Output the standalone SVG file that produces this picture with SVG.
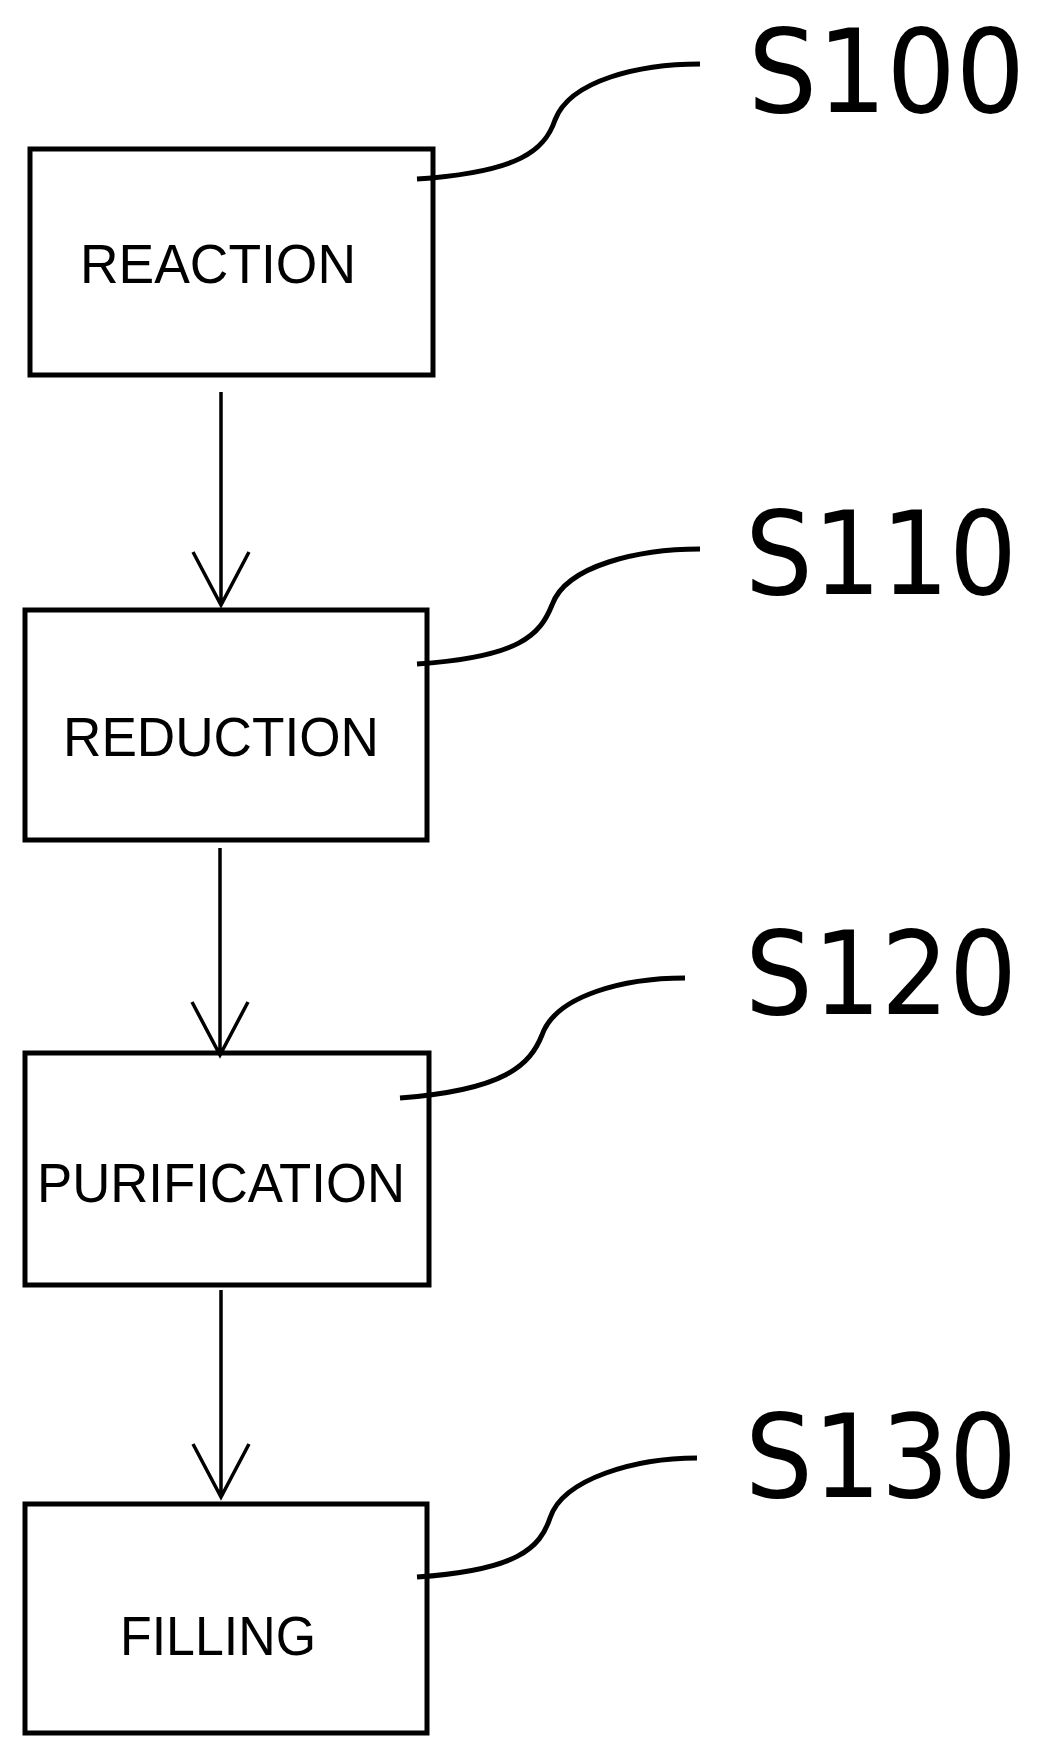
<svg xmlns="http://www.w3.org/2000/svg" width="1047" height="1755" viewBox="0 0 1047 1755">
<style>
.box{fill:#fff;stroke:#000;stroke-width:5}
.t{font-family:"Liberation Sans",Arial,sans-serif;font-size:56px;text-anchor:middle}
.lbl{font-family:"DejaVu Sans Condensed","Liberation Sans",sans-serif;font-size:116px}
.ln{fill:none;stroke:#000;stroke-width:3.5}
.ld{fill:none;stroke:#000;stroke-width:5}
</style>
<rect width="1047" height="1755" fill="#fff"/>
<g id="n1"><rect class="box" x="30" y="149" width="403" height="226"/><text class="t" x="218" y="283" textLength="276" lengthAdjust="spacingAndGlyphs">REACTION</text></g>
<g id="n2"><rect class="box" x="25" y="610" width="402" height="230"/><text class="t" x="221" y="756" textLength="316" lengthAdjust="spacingAndGlyphs">REDUCTION</text></g>
<g id="n3"><rect class="box" x="25" y="1053" width="404" height="232"/><text class="t" x="221" y="1202" textLength="368" lengthAdjust="spacingAndGlyphs">PURIFICATION</text></g>
<g id="n4"><rect class="box" x="25" y="1504" width="402" height="229"/><text class="t" x="218" y="1655" textLength="196" lengthAdjust="spacingAndGlyphs">FILLING</text></g>
<g id="labels">
<text class="lbl" x="748" y="112" textLength="277" lengthAdjust="spacingAndGlyphs">S100</text>
<text class="lbl" x="745" y="594" textLength="272" lengthAdjust="spacingAndGlyphs">S110</text>
<text class="lbl" x="745" y="1014" textLength="272" lengthAdjust="spacingAndGlyphs">S120</text>
<text class="lbl" x="745" y="1497" textLength="272" lengthAdjust="spacingAndGlyphs">S130</text>
</g>
<g id="connectors">
<path class="ln" d="M221 392V605M193 552L221 605L249 552"/>
<path class="ln" d="M220 848V1055M192 1002L220 1055L248 1002"/>
<path class="ln" d="M221 1290V1497M193 1444L221 1497L249 1444"/>
<path class="ld" d="M417 179C520 172 545 150 555 120C570 80 640 64 700 64"/>
<path class="ld" d="M417 664C520 657 540 635 552 605C566 565 640 549 700 549"/>
<path class="ld" d="M400 1098C505 1090 530 1065 542 1035C556 995 625 978 685 978"/>
<path class="ld" d="M417 1577C518 1570 540 1548 550 1518C563 1478 637 1458 697 1458"/>
</g>
</svg>
